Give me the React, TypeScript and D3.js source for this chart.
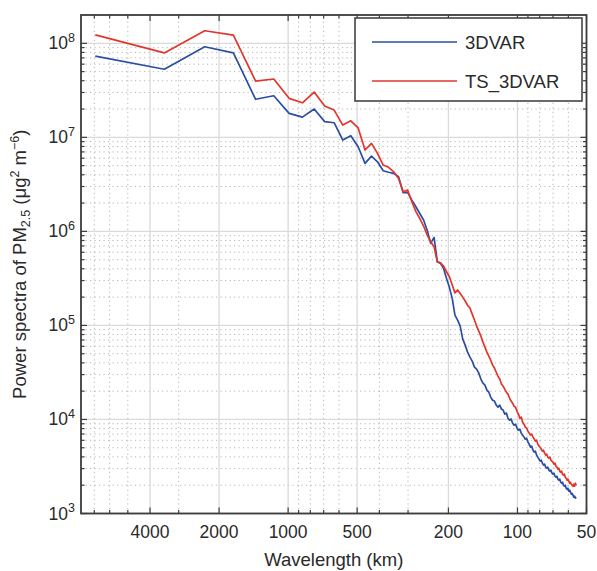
import React from 'react';
import * as d3 from 'd3';

// wavelength of wavenumber 1 (km); wavenumber k sits at DOMAIN_KM / k
const DOMAIN_KM = 6930;

// power spectra of PM2.5 (ug^2 m^-6), wavenumber 1..125
const power3dvar = [
  7.3e7, 5.3e7, 9.2e7, 7.9e7, 2.54e7, 2.77e7, 1.8e7, 1.64e7, 2.0e7, 1.47e7,
  1.43e7, 9.35e6, 1.04e7, 7.94e6, 5.28e6, 6.32e6, 5.5e6, 4.41e6, 4.25e6, 4.14e6,
  3.81e6, 2.58e6, 2.6e6, 2.15e6, 1.83e6, 1.55e6, 1.32e6, 1.03e6, 7.46e5, 8.63e5,
  4.75e5, 4.57e5, 4.04e5, 3.16e5, 2.54e5, 1.94e5, 1.29e5, 1.14e5, 9.84e4, 7.14e4,
  6.17e4, 5.2e4, 4.6e4, 4.17e4, 3.6e4, 3.43e4, 3.11e4, 2.69e4, 2.43e4, 2.32e4,
  2.05e4, 1.95e4, 1.73e4, 1.6e4, 1.57e4, 1.42e4, 1.35e4, 1.42e4, 1.29e4, 1.26e4,
  1.14e4, 1.17e4, 1.03e4, 9.84e3, 1.01e4, 9.14e3, 8.69e3, 8.91e3, 8.07e3, 7.69e3,
  7.89e3, 7.14e3, 6.81e3, 6.49e3, 6.17e3, 6.32e3, 5.74e3, 5.46e3, 5.07e3, 5.2e3,
  4.71e3, 4.49e3, 4.6e3, 4.17e3, 3.97e3, 3.78e3, 3.6e3, 3.69e3, 3.43e3, 3.27e3,
  3.35e3, 3.11e3, 3.03e3, 3.11e3, 2.89e3, 2.82e3, 2.89e3, 2.68e3, 2.62e3, 2.68e3,
  2.49e3, 2.43e3, 2.49e3, 2.32e3, 2.26e3, 2.32e3, 2.15e3, 2.1e3, 2.15e3, 2.0e3,
  1.95e3, 2.0e3, 1.86e3, 1.81e3, 1.86e3, 1.73e3, 1.77e3, 1.69e3, 1.6e3, 1.64e3,
  1.57e3, 1.49e3, 1.53e3, 1.46e3, 1.49e3,
];

const powerTs3dvar = [
  1.23e8, 7.9e7, 1.36e8, 1.22e8, 3.97e7, 4.17e7, 2.6e7, 2.33e7, 3.03e7, 2.15e7,
  1.95e7, 1.35e7, 1.5e7, 1.26e7, 7.33e6, 8.63e6, 6.76e6, 5.07e6, 4.8e6, 4.3e6,
  3.66e6, 2.64e6, 2.75e6, 2.07e6, 1.62e6, 1.37e6, 1.14e6, 9.14e5, 7.74e5, 6.86e5,
  4.75e5, 4.63e5, 4.27e5, 3.72e5, 3.29e5, 2.69e5, 2.22e5, 2.38e5, 2.19e5, 2.0e5,
  1.82e5, 1.64e5, 1.53e5, 1.32e5, 1.14e5, 9.84e4, 8.69e4, 7.69e4, 6.64e4, 5.87e4,
  5.2e4, 4.71e4, 4.27e4, 3.78e4, 3.52e4, 3.18e4, 2.89e4, 2.69e4, 2.38e4, 2.26e4,
  2.1e4, 1.95e4, 1.86e4, 1.69e4, 1.57e4, 1.49e4, 1.38e4, 1.35e4, 1.22e4, 1.14e4,
  1.03e4, 1.06e4, 9.35e3, 8.91e3, 8.28e3, 8.07e3, 7.52e3, 7.14e3, 6.81e3, 6.98e3,
  6.49e3, 6.17e3, 5.87e3, 6.03e3, 5.46e3, 5.2e3, 5.07e3, 4.83e3, 4.6e3, 4.71e3,
  4.38e3, 4.17e3, 4.27e3, 3.97e3, 3.87e3, 3.97e3, 3.69e3, 3.6e3, 3.52e3, 3.35e3,
  3.43e3, 3.19e3, 3.11e3, 2.96e3, 3.03e3, 2.82e3, 2.75e3, 2.82e3, 2.62e3, 2.56e3,
  2.62e3, 2.43e3, 2.37e3, 2.26e3, 2.32e3, 2.21e3, 2.1e3, 2.15e3, 2.05e3, 2.0e3,
  1.95e3, 2.05e3, 1.95e3, 2.1e3, 2.0e3,
];

const seriesNames = ['3DVAR', 'TS_3DVAR'];
const seriesColors = ['#2b4ea4', '#e2362c'];
const xTickValues = [4000, 2000, 1000, 500, 200, 100, 50];
const yTickExponents = [3, 4, 5, 6, 7, 8];

const FONT = 'Liberation Sans, Arial, Helvetica, sans-serif';
const AXIS_COLOR = '#3c3c3c';
const TEXT_COLOR = '#2a2a2a';

export default function App() {
  const width = 597;
  const height = 571;
  const margin = { t: 15, b: 57.5, l: 81, r: 10.5 };

  const x = d3.scaleLog().domain([8000, 50]).range([margin.l, width - margin.r]);
  const y = d3.scaleLog().domain([1e3, 2e8]).range([height - margin.b, margin.t]);

  const x0 = margin.l, x1 = width - margin.r;
  const y0 = height - margin.b, y1 = margin.t;

  // minor positions: d * 10^n that are not major ticks and not on the box
  const xMinor: number[] = [];
  [1, 2, 3].forEach(n => {
    for (let d = 1; d < 10; d++) {
      const v = d * Math.pow(10, n);
      if (v > 50 && v < 8000 && xTickValues.indexOf(v) < 0) xMinor.push(v);
    }
  });
  const yMinor: number[] = [];
  [3, 4, 5, 6, 7, 8].forEach(n => {
    for (let d = 2; d < 10; d++) {
      const v = d * Math.pow(10, n);
      if (v < 2e8) yMinor.push(v);
    }
  });
  const yMajor = yTickExponents.map(e => Math.pow(10, e));

  const series = [power3dvar, powerTs3dvar].map((vals, i) => ({
    name: seriesNames[i],
    color: seriesColors[i],
    points: vals.map((v, k) => [DOMAIN_KM / (k + 1), v] as [number, number]),
  }));

  const line = d3.line<[number, number]>()
    .x(d => x(d[0]))
    .y(d => y(d[1]));

  const majorLen = 6, minorLen = 3.5;

  return (
    <svg width={width} height={height}
      style={{ position: 'absolute', left: 0, top: 0, background: '#fff' }}
      fontFamily={FONT}>
      <rect x={0} y={0} width={width} height={height} fill="#fff" />

      {/* minor grid */}
      <g stroke="#b5b5b5" strokeWidth={1} strokeDasharray="1.2 3.3">
        {xMinor.map(v => (
          <line key={'xm' + v} x1={x(v)} x2={x(v)} y1={y0} y2={y1} />
        ))}
        {yMinor.map(v => (
          <line key={'ym' + v} x1={x0} x2={x1} y1={y(v)} y2={y(v)} />
        ))}
      </g>
      {/* major grid */}
      <g stroke="#dadada" strokeWidth={1.3}>
        {xTickValues.map(v => (
          <line key={'xg' + v} x1={x(v)} x2={x(v)} y1={y0} y2={y1} />
        ))}
        {yMajor.map(v => (
          <line key={'yg' + v} x1={x0} x2={x1} y1={y(v)} y2={y(v)} />
        ))}
      </g>

      {/* series */}
      <g fill="none" strokeWidth={1.7} strokeLinejoin="round">
        {series.map(s => (
          <path key={s.name} d={line(s.points) || ''} stroke={s.color} />
        ))}
      </g>

      {/* ticks, inward on all four sides */}
      <g stroke={AXIS_COLOR} strokeWidth={1.2}>
        {xTickValues.map(v => (
          <g key={'xt' + v}>
            <line x1={x(v)} x2={x(v)} y1={y0} y2={y0 - majorLen} />
            <line x1={x(v)} x2={x(v)} y1={y1} y2={y1 + majorLen} />
          </g>
        ))}
        {xMinor.map(v => (
          <g key={'xmt' + v}>
            <line x1={x(v)} x2={x(v)} y1={y0} y2={y0 - minorLen} />
            <line x1={x(v)} x2={x(v)} y1={y1} y2={y1 + minorLen} />
          </g>
        ))}
        {yMajor.map(v => (
          <g key={'yt' + v}>
            <line x1={x0} x2={x0 + majorLen} y1={y(v)} y2={y(v)} />
            <line x1={x1} x2={x1 - majorLen} y1={y(v)} y2={y(v)} />
          </g>
        ))}
        {yMinor.map(v => (
          <g key={'ymt' + v}>
            <line x1={x0} x2={x0 + minorLen} y1={y(v)} y2={y(v)} />
            <line x1={x1} x2={x1 - minorLen} y1={y(v)} y2={y(v)} />
          </g>
        ))}
      </g>

      {/* box */}
      <rect x={x0} y={y1} width={x1 - x0} height={y0 - y1}
        fill="none" stroke={AXIS_COLOR} strokeWidth={1.8} />

      {/* tick labels */}
      <g fill={TEXT_COLOR} fontSize={17.5}>
        {xTickValues.map(v => (
          <text key={'xl' + v} x={x(v)} y={y0 + 24} textAnchor="middle">{v}</text>
        ))}
        {yTickExponents.map(e => (
          <text key={'yl' + e} x={x0 - 6} y={y(Math.pow(10, e)) + 6} textAnchor="end">
            10<tspan fontSize={12.5} dy={-7.5}>{e}</tspan>
          </text>
        ))}
      </g>

      {/* axis titles */}
      <text x={(x0 + x1) / 2} y={566} textAnchor="middle" fontSize={18.5} fill={TEXT_COLOR}>
        Wavelength (km)
      </text>
      <text transform={`translate(25.5,${(y0 + y1) / 2}) rotate(-90)`}
        textAnchor="middle" fontSize={18.5} fill={TEXT_COLOR}>
        Power spectra of PM<tspan fontSize={12.5} dy={4}>2.5</tspan>
        <tspan dy={-4}> (μg</tspan><tspan fontSize={12.5} dy={-7}>2</tspan>
        <tspan dy={7}> m</tspan><tspan fontSize={12.5} dy={-7}>−6</tspan>
        <tspan dy={7}>)</tspan>
      </text>

      {/* legend */}
      <g>
        <rect x={355} y={18} width={227} height={83} fill="#fff" stroke="#444" strokeWidth={1.6} />
        {series.map((s, i) => (
          <g key={'lg' + s.name} transform={`translate(0,${42 + i * 39})`}>
            <line x1={372} x2={457} y1={0} y2={0} stroke={s.color} strokeWidth={1.7} />
            <text x={465} y={7} fontSize={18.5} fill={TEXT_COLOR}>{s.name}</text>
          </g>
        ))}
      </g>
    </svg>
  );
}
